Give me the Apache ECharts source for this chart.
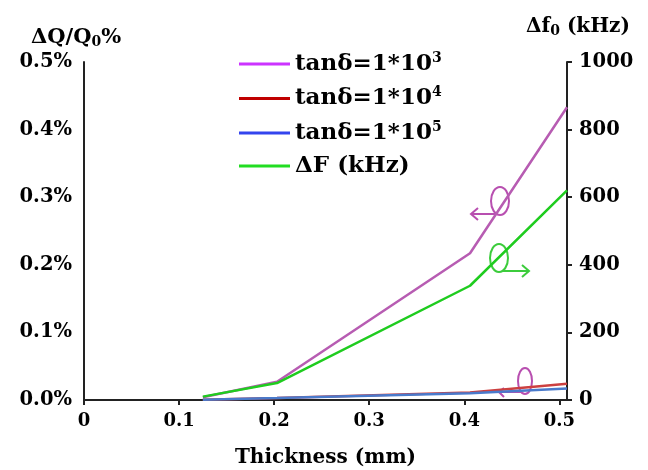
<!DOCTYPE html>
<html>
<head>
<meta charset="utf-8">
<script src="https://cdn.jsdelivr.net/npm/echarts@6/dist/echarts.min.js"></script>
<style>
  html, body { margin: 0; padding: 0; background: #fff; overflow: hidden; }
  #chart { width: 648px; height: 470px; }
</style>
</head>
<body>
<div id="chart"></div>
<script>
// thickness (mm)
const thickness = [0.125, 0.203, 0.406, 0.508];
// dQ/Q0 in %
const tan3 = [0.004, 0.027, 0.217, 0.433];
const tan4 = [0.0005, 0.003, 0.011, 0.024];
const tan5 = [0.0005, 0.003, 0.01, 0.017];
// df0 in kHz
const deltaF = [10, 50, 338, 620];

const names = ["tanδ=1*10^3", "tanδ=1*10^4", "tanδ=1*10^5", "ΔF (kHz)"];
const lineColors = ["#b75cb2", "#cc4040", "#4a7acb", "#1fcc1f"];
const legendColors = ["#cc33ff", "#c00000", "#3344ee", "#22dd22"];

const font = "DejaVu Serif";

function pairs(ys) {
  return thickness.map((x, i) => [x, ys[i]]);
}

const chart = echarts.init(document.getElementById("chart"));

chart.setOption({
  animation: false,
  grid: { left: 84, right: 81, top: 62, bottom: 70, outerBoundsMode: "none" },
  legend: {
    orient: "vertical",
    left: 234,
    top: 46,
    itemWidth: 51,
    itemHeight: 3,
    itemGap: 10,
    icon: "rect",
    data: names.map((n, i) => ({ name: n, itemStyle: { color: legendColors[i] } })),
    formatter: function(name) {
      const p = name.split("^");
      return p.length > 1 ? "{a|" + p[0] + "}{s|" + p[1] + "}" : "{a|" + name + "}";
    },
    textStyle: {
      rich: {
        a: { fontFamily: font, fontWeight: "bold", fontSize: 23, lineHeight: 26, color: "#000" },
        s: { fontFamily: font, fontWeight: "bold", fontSize: 14, color: "#000", verticalAlign: "top", padding: [0, 0, 12, 0] }
      }
    }
  },
  xAxis: {
    type: "value",
    min: 0,
    max: 0.508,
    interval: 0.1,
    name: "Thickness (mm)",
    nameLocation: "middle",
    nameGap: 48,
    nameTextStyle: { fontFamily: font, fontWeight: "bold", fontSize: 20, color: "#000" },
    axisLine: { lineStyle: { color: "#222", width: 2 } },
    axisTick: { show: true, length: 5, lineStyle: { color: "#222", width: 2 } },
    splitLine: { show: false },
    axisLabel: {
      showMaxLabel: false,
      margin: 12,
      fontFamily: font, fontWeight: "bold", fontSize: 18, color: "#000",
      formatter: v => (v === 0 ? "0" : v.toFixed(1))
    }
  },
  yAxis: [
    {
      type: "value",
      min: 0,
      max: 0.5,
      interval: 0.1,
      name: "{a|ΔQ/Q}{s|0}{a|%}",
      nameGap: 13,
      nameTextStyle: {
        padding: [0, 16, 0, 0],
        rich: {
          a: { fontFamily: font, fontSize: 21, fontWeight: "bold", color: "#000" },
          s: { fontFamily: font, fontSize: 14, fontWeight: "bold", color: "#000", verticalAlign: "bottom", padding: [8, 0, 0, 0] }
        }
      },
      axisLine: { show: true, lineStyle: { color: "#222", width: 2 } },
      axisTick: { show: false },
      splitLine: { show: false },
      axisLabel: {
        margin: 12,
        fontFamily: font, fontWeight: "bold", fontSize: 19.5, color: "#000",
        formatter: v => v.toFixed(1) + "%"
      }
    },
    {
      type: "value",
      min: 0,
      max: 1000,
      interval: 200,
      position: "right",
      name: "{a|Δf}{s|0}{a| (kHz)}",
      nameGap: 24,
      nameTextStyle: {
        padding: [0, 0, 0, 22],
        rich: {
          a: { fontFamily: font, fontSize: 20, fontWeight: "bold", color: "#000" },
          s: { fontFamily: font, fontSize: 14, fontWeight: "bold", color: "#000", verticalAlign: "bottom", padding: [8, 0, 0, 0] }
        }
      },
      axisLine: { show: true, lineStyle: { color: "#222", width: 2 } },
      axisTick: { show: true, length: 5, lineStyle: { color: "#222", width: 2 } },
      splitLine: { show: false },
      axisLabel: {
        margin: 12,
        fontFamily: font, fontWeight: "bold", fontSize: 19.5, color: "#000",
        formatter: v => String(v)
      }
    }
  ],
  series: [
    { name: names[0], type: "line", yAxisIndex: 0, data: pairs(tan3) },
    { name: names[1], type: "line", yAxisIndex: 0, data: pairs(tan4) },
    { name: names[2], type: "line", yAxisIndex: 0, data: pairs(tan5) },
    { name: names[3], type: "line", yAxisIndex: 1, data: pairs(deltaF) }
  ].map((s, i) => Object.assign(s, {
    symbol: "none",
    lineStyle: { color: lineColors[i], width: 2.5 },
    itemStyle: { color: lineColors[i] },
    z: i === 3 ? 3 : 2
  })),
  graphic: [
    // purple ellipse + arrow to the left axis
    { type: "ellipse", shape: { cx: 500, cy: 201, rx: 9, ry: 14 }, style: { fill: "none", stroke: "#b84fb0", lineWidth: 2 } },
    { type: "line", shape: { x1: 496, y1: 214, x2: 471, y2: 214 }, style: { stroke: "#b84fb0", lineWidth: 2 } },
    { type: "polyline", shape: { points: [[478, 208], [471, 214], [478, 220]] }, style: { fill: "none", stroke: "#b84fb0", lineWidth: 2 } },
    // green ellipse + arrow to the right axis
    { type: "ellipse", shape: { cx: 499, cy: 258, rx: 9, ry: 14 }, style: { fill: "none", stroke: "#3ccc3c", lineWidth: 2 } },
    { type: "line", shape: { x1: 503, y1: 271, x2: 529, y2: 271 }, style: { stroke: "#3ccc3c", lineWidth: 2 } },
    { type: "polyline", shape: { points: [[522, 265], [529, 271], [522, 277]] }, style: { fill: "none", stroke: "#3ccc3c", lineWidth: 2 } },
    // small purple ellipse near the low-loss curves
    { type: "ellipse", shape: { cx: 525, cy: 381, rx: 7, ry: 13 }, style: { fill: "none", stroke: "#b84fb0", lineWidth: 2 } },
    { type: "line", shape: { x1: 521, y1: 392, x2: 499, y2: 392 }, style: { stroke: "#b84fb0", lineWidth: 2 } },
    { type: "polyline", shape: { points: [[504, 388], [499, 392], [504, 397]] }, style: { fill: "none", stroke: "#b84fb0", lineWidth: 2 } }
  ]
});
</script>
</body>
</html>
